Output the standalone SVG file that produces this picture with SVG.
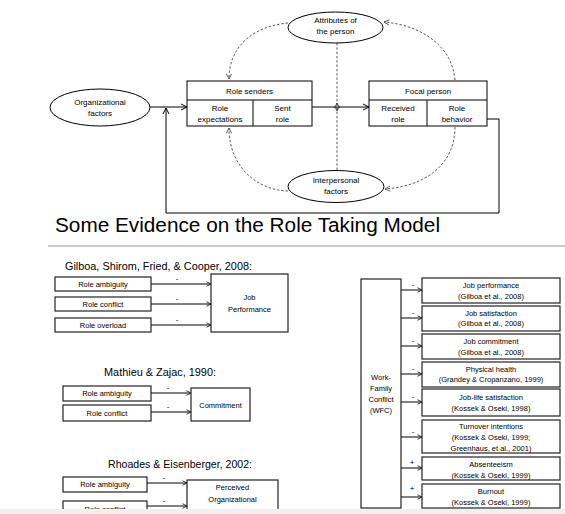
<svg xmlns="http://www.w3.org/2000/svg" width="565" height="514" viewBox="0 0 565 514">
<defs>
<style>
text{font-family:"Liberation Sans",Arial,sans-serif;fill:#000}
.t{font-size:8px;text-anchor:middle}
.s{font-size:7.5px;text-anchor:middle}
.h{font-size:10.5px}
.box{fill:#fff;stroke:#000;stroke-width:1}
.bx{fill:#fff;stroke:#222;stroke-width:1.2}
.ln{fill:none;stroke:#000;stroke-width:1}
.dash{fill:none;stroke:#333;stroke-width:0.8;stroke-dasharray:2.5,1.8}
.sg{font-size:8px;text-anchor:middle}
</style>
<marker id="ah" viewBox="0 0 8 8" refX="7" refY="4" markerWidth="8" markerHeight="8" markerUnits="userSpaceOnUse" orient="auto"><path d="M1,1 L7,4 L1,7" fill="none" stroke="#000" stroke-width="1"/></marker>
<marker id="ad" viewBox="0 0 8 8" refX="7" refY="4" markerWidth="7" markerHeight="7" markerUnits="userSpaceOnUse" orient="auto"><path d="M1,1 L7,4 L1,7" fill="none" stroke="#333" stroke-width="0.9"/></marker>
<marker id="as" viewBox="0 0 8 8" refX="7" refY="4" markerWidth="6" markerHeight="6" markerUnits="userSpaceOnUse" orient="auto"><path d="M1,1 L7,4 L1,7" fill="none" stroke="#222" stroke-width="1.2"/></marker>
</defs>
<rect width="565" height="514" fill="#fff"/>

<g id="connectors">
<path class="ln" d="M150,107 L187,107" marker-end="url(#ah)"/>
<path class="ln" d="M312,107 L369,107" marker-end="url(#ah)"/>
<path class="ln" d="M487,119 L499,119 L499,213 L166,213 L166,108" marker-end="url(#ah)"/>
<path class="dash" d="M337,43 L337,111" marker-end="url(#ad)"/>
<path class="dash" d="M337,170 L337,103" marker-end="url(#ad)"/>
<path class="dash" d="M288,23 C255,26 229,45 229,79" marker-end="url(#ad)"/>
<path class="dash" d="M455,80 C452,45 420,25 384,22" marker-end="url(#ad)"/>
<path class="dash" d="M455,127 C455,165 425,186 385,189" marker-end="url(#ad)"/>
<path class="dash" d="M288,191 C255,190 229,165 229,128" marker-end="url(#ad)"/>

<path class="ln" stroke="#222" stroke-width="1.2" d="M151,284 L211,284" marker-end="url(#as)"/>
<path class="ln" stroke="#222" stroke-width="1.2" d="M151,304 L211,304" marker-end="url(#as)"/>
<path class="ln" stroke="#222" stroke-width="1.2" d="M151,325 L211,325" marker-end="url(#as)"/>
<path class="ln" stroke="#222" stroke-width="1.2" d="M151,393 L191,393" marker-end="url(#as)"/>
<path class="ln" stroke="#222" stroke-width="1.2" d="M151,412 L191,412" marker-end="url(#as)"/>
<path class="ln" stroke="#222" stroke-width="1.2" d="M147,483 L187,483" marker-end="url(#as)"/>
<path class="ln" stroke="#222" stroke-width="1.2" d="M147,506 L187,506" marker-end="url(#as)"/>

<path class="ln" stroke="#222" d="M401,290 L422,290" marker-end="url(#as)"/>
<path class="ln" stroke="#222" d="M401,318 L422,318" marker-end="url(#as)"/>
<path class="ln" stroke="#222" d="M401,346 L422,346" marker-end="url(#as)"/>
<path class="ln" stroke="#222" d="M401,374 L422,374" marker-end="url(#as)"/>
<path class="ln" stroke="#222" d="M401,402 L422,402" marker-end="url(#as)"/>
<path class="ln" stroke="#222" d="M401,437 L422,437" marker-end="url(#as)"/>
<path class="ln" stroke="#222" d="M401,468 L422,468" marker-end="url(#as)"/>
<path class="ln" stroke="#222" d="M401,497 L422,497" marker-end="url(#as)"/>
</g>

<g id="org-factors">
<ellipse class="box" cx="100" cy="107.5" rx="50" ry="18.5"/>
<text class="t" x="100" y="105">Organizational</text>
<text class="t" x="100" y="116">factors</text>
</g>
<g id="attributes">
<ellipse class="box" cx="335.5" cy="27.5" rx="47.5" ry="15.5"/>
<text class="t" x="335.5" y="23">Attributes of</text>
<text class="t" x="335.5" y="34">the person</text>
</g>
<g id="interpersonal">
<ellipse class="box" cx="336" cy="186.5" rx="48" ry="16"/>
<text class="t" x="336" y="183">Interpersonal</text>
<text class="t" x="336" y="194">factors</text>
</g>
<g id="role-senders">
<rect class="box" x="187" y="81" width="125" height="45"/>
<line class="ln" x1="187" y1="100" x2="312" y2="100"/>
<line class="ln" x1="253" y1="100" x2="253" y2="126"/>
<text class="t" x="249.5" y="94">Role senders</text>
<text class="t" x="220" y="111">Role</text>
<text class="t" x="220" y="122">expectations</text>
<text class="t" x="282.5" y="111">Sent</text>
<text class="t" x="282.5" y="122">role</text>
</g>
<g id="focal-person">
<rect class="box" x="369" y="81" width="118" height="45"/>
<line class="ln" x1="369" y1="100" x2="487" y2="100"/>
<line class="ln" x1="427" y1="100" x2="427" y2="126"/>
<text class="t" x="428" y="94">Focal person</text>
<text class="t" x="398" y="111">Received</text>
<text class="t" x="398" y="122">role</text>
<text class="t" x="457" y="111">Role</text>
<text class="t" x="457" y="122">behavior</text>
</g>

<g id="title">
<text x="55" y="232" font-size="20" textLength="385" lengthAdjust="spacingAndGlyphs">Some Evidence on the Role Taking Model</text>
<line x1="48" y1="246" x2="565" y2="246" stroke="#bbb" stroke-width="1.5"/>
</g>

<g id="gilboa">
<text class="h" x="65" y="270" textLength="187" lengthAdjust="spacingAndGlyphs">Gilboa, Shirom, Fried, &amp; Cooper, 2008:</text>
<rect class="bx" x="55" y="277" width="96" height="14"/>
<text class="s" x="103" y="287">Role ambiguity</text>
<rect class="bx" x="55" y="297" width="96" height="14"/>
<text class="s" x="103" y="307">Role conflict</text>
<rect class="bx" x="55" y="318" width="96" height="14"/>
<text class="s" x="103" y="328">Role overload</text>
<rect class="bx" x="211" y="274" width="77" height="58"/>
<text class="s" x="249.5" y="300">Job</text>
<text class="s" x="249.5" y="312">Performance</text>
<text class="sg" x="177" y="281">-</text>
<text class="sg" x="177" y="301">-</text>
<text class="sg" x="177" y="322">-</text>
</g>

<g id="mathieu">
<text class="h" x="104" y="376" textLength="112" lengthAdjust="spacingAndGlyphs">Mathieu &amp; Zajac, 1990:</text>
<rect class="bx" x="63" y="386" width="88" height="15"/>
<text class="s" x="107" y="396">Role ambiguity</text>
<rect class="bx" x="63" y="405" width="88" height="16"/>
<text class="s" x="107" y="416">Role conflict</text>
<rect class="bx" x="191" y="388" width="59" height="33"/>
<text class="s" x="220.5" y="408">Commitment</text>
<text class="sg" x="168" y="390">-</text>
<text class="sg" x="168" y="409">-</text>
</g>

<g id="rhoades">
<text class="h" x="108" y="468" textLength="144" lengthAdjust="spacingAndGlyphs">Rhoades &amp; Eisenberger, 2002:</text>
<rect class="bx" x="63" y="477" width="84" height="15"/>
<text class="s" x="105" y="487">Role ambiguity</text>
<rect class="bx" x="63" y="501" width="84" height="16"/>
<text class="s" x="105" y="512">Role conflict</text>
<rect class="bx" x="187" y="480" width="91" height="40"/>
<text class="s" x="232.5" y="490">Perceived</text>
<text class="s" x="232.5" y="502">Organizational</text>
<text class="s" x="232.5" y="514">Support</text>
<text class="sg" x="164" y="480">-</text>
<text class="sg" x="164" y="503">-</text>
</g>

<g id="wfc">
<rect class="bx" x="361" y="279" width="40" height="229"/>
<text class="s" x="381" y="380">Work-</text>
<text class="s" x="381" y="391">Family</text>
<text class="s" x="381" y="402">Conflict</text>
<text class="s" x="381" y="413">(WFC)</text>
</g>

<g id="outcomes">
<rect class="bx" x="422" y="278" width="138" height="25"/>
<text class="s" x="491" y="288">Job performance</text>
<text class="s" x="491" y="299">(Gilboa et al., 2008)</text>
<rect class="bx" x="422" y="306" width="138" height="25"/>
<text class="s" x="491" y="316">Job satisfaction</text>
<text class="s" x="491" y="326">(Gilboa et al., 2008)</text>
<rect class="bx" x="422" y="334" width="138" height="25"/>
<text class="s" x="491" y="344">Job commitment</text>
<text class="s" x="491" y="355">(Gilboa et al., 2008)</text>
<rect class="bx" x="422" y="362" width="138" height="25"/>
<text class="s" x="491" y="372">Physical health</text>
<text class="s" x="491" y="382">(Grandey &amp; Cropanzano, 1999)</text>
<rect class="bx" x="422" y="389" width="138" height="27"/>
<text class="s" x="491" y="400">Job-life satisfaction</text>
<text class="s" x="491" y="411">(Kossek &amp; Oseki, 1998)</text>
<rect class="bx" x="422" y="420" width="138" height="33"/>
<text class="s" x="491" y="429">Turnover intentions</text>
<text class="s" x="491" y="440">(Kossek &amp; Oseki, 1999;</text>
<text class="s" x="491" y="451">Greenhaus, et al., 2001)</text>
<rect class="bx" x="422" y="457" width="138" height="23"/>
<text class="s" x="491" y="467">Absenteeism</text>
<text class="s" x="491" y="478">(Kossek &amp; Oseki, 1999)</text>
<rect class="bx" x="422" y="484" width="138" height="24"/>
<text class="s" x="491" y="494">Burnout</text>
<text class="s" x="491" y="505">(Kossek &amp; Oseki, 1999)</text>
<text class="sg" x="413" y="287">-</text>
<text class="sg" x="413" y="315">-</text>
<text class="sg" x="413" y="343">-</text>
<text class="sg" x="413" y="371">-</text>
<text class="sg" x="413" y="399">-</text>
<text class="sg" x="413" y="434">-</text>
<text class="sg" x="412" y="465">+</text>
<text class="sg" x="412" y="491">+</text>
</g>

<rect x="0" y="509" width="565" height="5" fill="#f0f0f0"/>
</svg>
